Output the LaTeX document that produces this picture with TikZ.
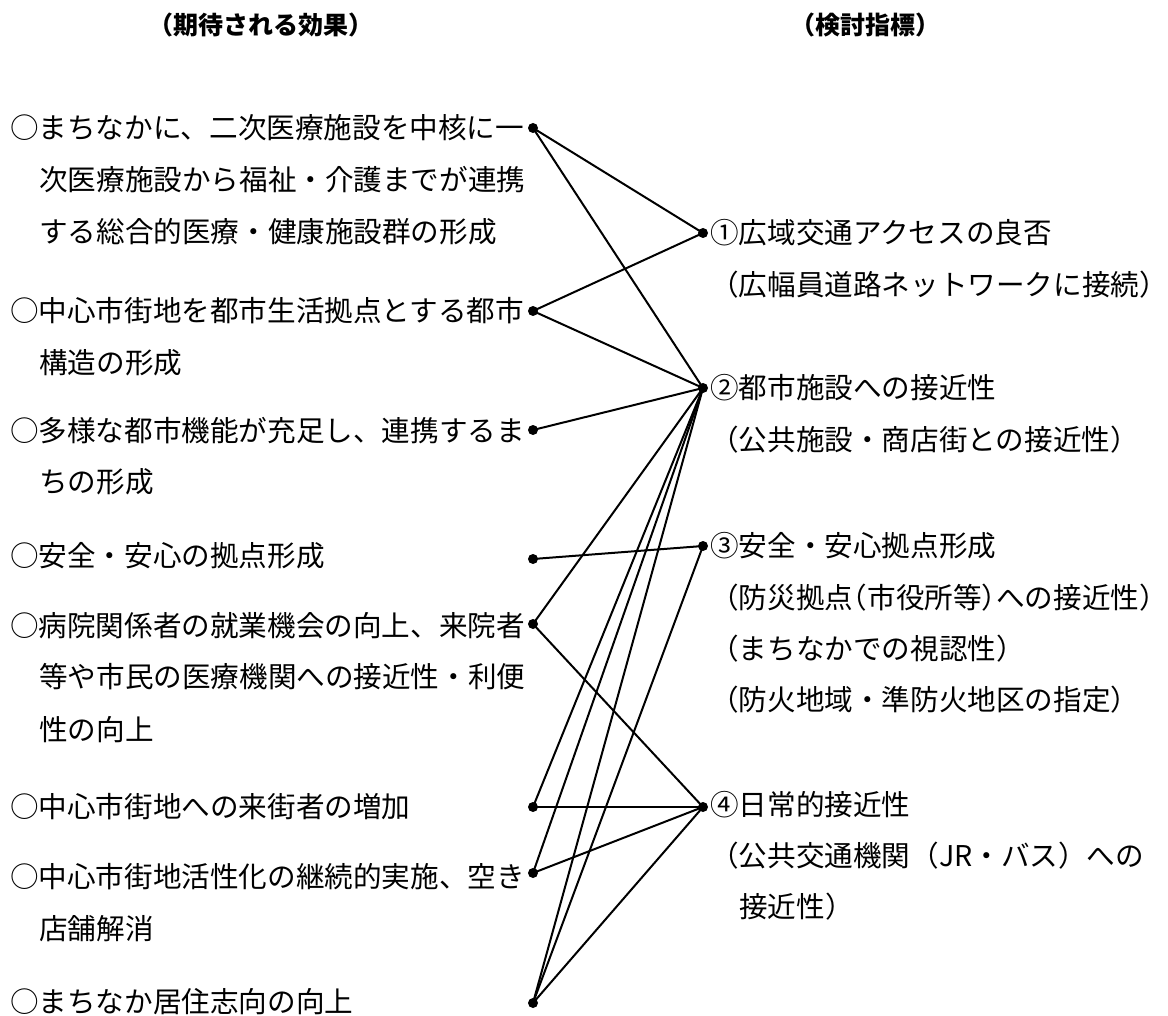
\documentclass[tikz,border=0pt]{standalone}
\usepackage{fontspec}
\setmainfont{Noto Sans CJK JP}
\begin{document}
\begin{tikzpicture}[x=1pt,y=-1pt,
  dotnode/.style={circle, fill=black, inner sep=0pt, minimum size=10pt},
  txt/.style={anchor=west, inner sep=0pt, text height=25.2pt, text depth=3.4pt, font=\fontsize{28.6pt}{30pt}\selectfont},
  hdr/.style={inner sep=0pt, text height=22pt, text depth=3pt, font=\fontsize{25pt}{27pt}\selectfont\bfseries},
  link/.style={line width=2pt}]
\fill[white] (0,0) rectangle (1168,1016);
\useasboundingbox (0,0) rectangle (1168,1016);

% headers
\node[hdr] (h1) at (261,25) {（期待される効果）};
\node[hdr] (h2) at (865,25) {（検討指標）};

% left texts
\node[txt] (l1a) at (10,128) {○まちなかに、二次医療施設を中核に一};
\node[txt] (l1b) at (39,180) {次医療施設から福祉・介護までが連携};
\node[txt] (l1c) at (39,232) {する総合的医療・健康施設群の形成};
\node[txt] (l2a) at (10,311) {○中心市街地を都市生活拠点とする都市};
\node[txt] (l2b) at (39,363) {構造の形成};
\node[txt] (l3a) at (10,431) {○多様な都市機能が充足し、連携するま};
\node[txt] (l3b) at (39,482) {ちの形成};
\node[txt] (l4a) at (10,556) {○安全・安心の拠点形成};
\node[txt] (l5a) at (10,626) {○病院関係者の就業機会の向上、来院者};
\node[txt] (l5b) at (39,677) {等や市民の医療機関への接近性・利便};
\node[txt] (l5c) at (39,730) {性の向上};
\node[txt] (l6a) at (10,807) {○中心市街地への来街者の増加};
\node[txt] (l7a) at (10,877) {○中心市街地活性化の継続的実施、空き};
\node[txt] (l7b) at (39,929) {店舗解消};
\node[txt] (l8a) at (10,1002) {○まちなか居住志向の向上};

% right texts
\node[txt] (r1a) at (710,233) {①広域交通アクセスの良否};
\node[txt] (r1b) at (710,285) {（広幅員道路ネットワークに接続）};
\node[txt] (r2a) at (710,388) {②都市施設への接近性};
\node[txt] (r2b) at (710,440) {（公共施設・商店街との接近性）};
\node[txt] (r3a) at (710,546) {③安全・安心拠点形成};
\node[txt] (r3b) at (710,598) {（防災拠点\hspace{-0.5em}（市役所等）\hspace{-0.5em}への接近性）};
\node[txt] (r3c) at (710,649) {（まちなかでの視認性）};
\node[txt] (r3d) at (710,700) {（防火地域・準防火地区の指定）};
\node[txt] (r4a) at (710,805) {④日常的接近性};
\node[txt] (r4b) at (710,856) {（公共交通機関（JR・バス）への};
\node[txt] (r4c) at (739,907) {接近性）};

% dots
\node[dotnode] (L1) at (533,128) {};
\node[dotnode] (L2) at (533,311) {};
\node[dotnode] (L3) at (533,430) {};
\node[dotnode] (L4) at (533,559) {};
\node[dotnode] (L5) at (533,624) {};
\node[dotnode] (L6) at (533,807) {};
\node[dotnode] (L7) at (533,873) {};
\node[dotnode] (L8) at (533,1003) {};
\node[dotnode] (R1) at (703,233) {};
\node[dotnode] (R2) at (703,388) {};
\node[dotnode] (R3) at (703,546) {};
\node[dotnode] (R4) at (703,807) {};

% connectors
\draw[link] (L1.center) -- (R1.center);
\draw[link] (L1.center) -- (R2.center);
\draw[link] (L2.center) -- (R1.center);
\draw[link] (L2.center) -- (R2.center);
\draw[link] (L3.center) -- (R2.center);
\draw[link] (L4.center) -- (R3.center);
\draw[link] (L5.center) -- (R2.center);
\draw[link] (L5.center) -- (R4.center);
\draw[link] (L6.center) -- (R2.center);
\draw[link] (L6.center) -- (R4.center);
\draw[link] (L7.center) -- (R2.center);
\draw[link] (L7.center) -- (R4.center);
\draw[link] (L8.center) -- (R2.center);
\draw[link] (L8.center) -- (R3.center);
\draw[link] (L8.center) -- (R4.center);
\end{tikzpicture}
\end{document}
